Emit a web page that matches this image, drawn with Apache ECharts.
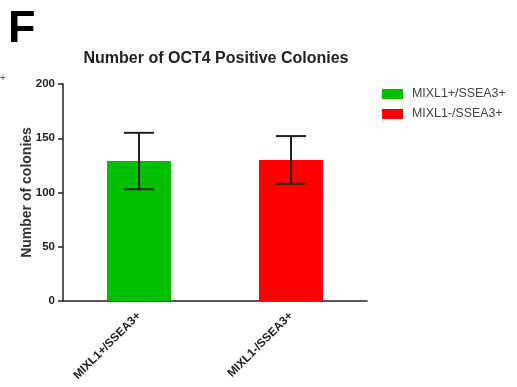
<!DOCTYPE html>
<html><head><meta charset="utf-8">
<script src="https://cdn.jsdelivr.net/npm/echarts@6/dist/echarts.min.js"></script>
<style>html,body{margin:0;padding:0;background:#fff}#c{width:517px;height:387px}</style>
</head><body><div id="c"></div>
<script>
const categories = ['MIXL1+/SSEA3+', 'MIXL1-/SSEA3+'];
const means = [129, 130];
const errors = [26, 22];
const colors = ['#00c000', '#ff0000'];
const yTicks = [0, 50, 100, 150, 200];

const chart = echarts.init(document.getElementById('c'));
const FONT = 'Liberation Sans, Arial, sans-serif';
chart.setOption({
  animation: false,
  backgroundColor: '#fff',
  title: [{
    text: 'Number of OCT4 Positive Colonies',
    left: 216, top: 51, textAlign: 'center', padding: 0,
    textStyle: {fontFamily: FONT, fontSize: 16, fontWeight: 'bold', color: '#222'}
  }],
  graphic: [
    {type: 'text', left: 8, top: 7, style: {text: 'F', font: 'bold 45px ' + FONT, fill: '#000'}},
    {type: 'text', left: 0, top: 73, style: {text: '+', font: '10px ' + FONT, fill: '#555'}}
  ],
  legend: {
    left: 382, top: 88, orient: 'vertical', padding: 0, itemWidth: 21, itemHeight: 10, itemGap: 8,
    icon: 'rect',
    textStyle: {fontFamily: FONT, fontSize: 12.4, color: '#444', padding: [0, 0, 0, 4]},
    data: categories.map((c, i) => ({name: c, itemStyle: {color: colors[i]}}))
  },
  grid: {left: 63, right: 150, top: 84, bottom: 86, containLabel: false},
  xAxis: {
    type: 'category', data: categories,
    axisLine: {lineStyle: {color: '#222', width: 1.5}},
    axisTick: {alignWithLabel: true, length: 5, lineStyle: {color: '#222', width: 1.5}},
    axisLabel: {rotate: 45, fontFamily: FONT, fontSize: 11.7, fontWeight: 'bold', color: '#222', margin: 13}
  },
  yAxis: {
    type: 'value', min: 0, max: 200, interval: 50,
    name: 'Number of colonies', nameLocation: 'middle', nameGap: 29, nameMoveOverlap: false,
    nameTextStyle: {fontFamily: FONT, fontSize: 14, fontWeight: 'bold', color: '#333'},
    axisLine: {show: true, lineStyle: {color: '#222', width: 1.5}},
    axisTick: {show: true, length: 5, lineStyle: {color: '#222', width: 1.5}},
    splitLine: {show: false},
    axisLabel: {fontFamily: FONT, fontSize: 11.5, fontWeight: 'bold', color: '#222', margin: 8,
      formatter: v => yTicks.includes(v) ? String(v) : ''}
  },
  series: [
    ...categories.map((c, i) => ({
      name: c, type: 'bar', barWidth: 64, barGap: '-100%',
      itemStyle: {color: colors[i]},
      data: categories.map((_, j) => j === i ? means[j] : '-')
    })),
    {
      type: 'custom', name: 'err', z: 10,
      data: categories.map((c, i) => [i, means[i] - errors[i], means[i] + errors[i]]),
      renderItem: (params, api) => {
        const lo = api.coord([api.value(0), api.value(1)]);
        const hi = api.coord([api.value(0), api.value(2)]);
        const hw = 15;
        const st = {stroke: '#222', lineWidth: 2};
        return {type: 'group', children: [
          {type: 'line', shape: {x1: lo[0], y1: lo[1], x2: hi[0], y2: hi[1]}, style: st},
          {type: 'line', shape: {x1: lo[0]-hw, y1: lo[1], x2: lo[0]+hw, y2: lo[1]}, style: st},
          {type: 'line', shape: {x1: hi[0]-hw, y1: hi[1], x2: hi[0]+hw, y2: hi[1]}, style: st}
        ]};
      }
    }
  ]
});
</script></body></html>
